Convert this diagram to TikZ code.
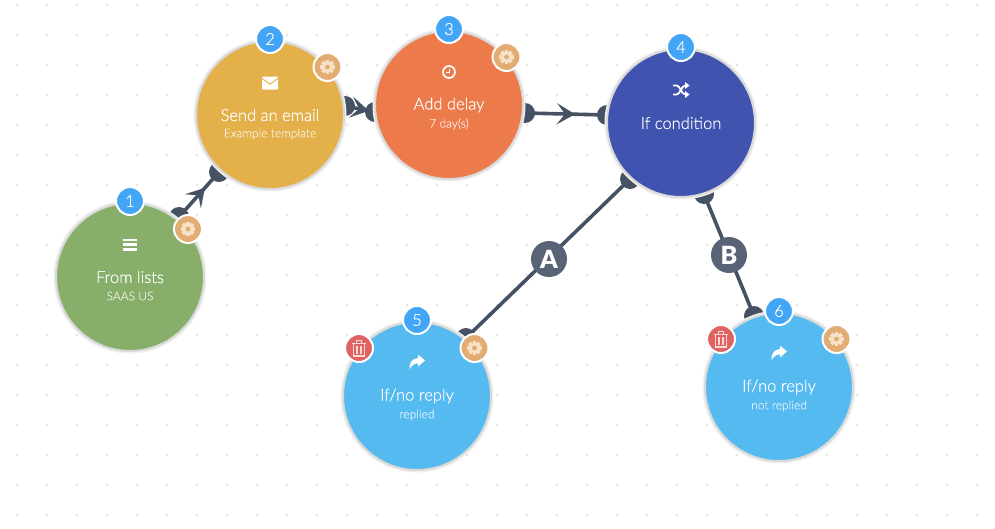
\documentclass[tikz,border=0pt]{standalone}
\usepackage{fontspec}
\setmainfont{Lato}[UprightFont={* Light},UprightFeatures={FakeBold=0.35},BoldFont={* Black}]
\usetikzlibrary{arrows.meta,decorations.markings}
\definecolor{linkc}{HTML}{445263}
\definecolor{labelc}{HTML}{586475}
\definecolor{dotc}{HTML}{E4E4E4}
\definecolor{greenc}{HTML}{88AF69}
\definecolor{yellowc}{HTML}{E4B04A}
\definecolor{orangec}{HTML}{EC7A4A}
\definecolor{navyc}{HTML}{4053AE}
\definecolor{skyc}{HTML}{54BAF0}
\definecolor{badgec}{HTML}{42A5F5}
\definecolor{gearc}{HTML}{E2AC72}
\definecolor{gearin}{HTML}{F7E2C8}
\definecolor{trashc}{HTML}{E06363}
\definecolor{trashin}{HTML}{FADAD5}
\tikzset{
  flow/.style={circle,fill=#1,draw=black!15,line width=2pt,minimum size=148pt,inner sep=0pt,
     preaction={draw=black!6,line width=5pt}},
  numbadge/.style={circle,fill=badgec,draw=white,line width=2pt,minimum size=28pt,inner sep=0pt,text=white,font=\fontsize{16.5}{18}\selectfont},
  toolbadge/.style={circle,fill=#1,draw=white,line width=2pt,minimum size=28pt,inner sep=0pt},
  title/.style={text=white,inner sep=0pt,font=\fontsize{16.5}{18}\selectfont},
  subtitle/.style={text=white,opacity=.72,inner sep=0pt,font=\fontsize{12}{13}\selectfont},
  enddot/.style={circle,fill=linkc,minimum size=20pt,inner sep=0pt},
  link/.style={draw=linkc,line width=3.6pt},
  arrowlink/.style={link,postaction={decorate},decoration={markings,
     mark=at position .5 with {\arrow[xshift=9pt,linkc]{Stealth[length=18pt,width=21pt,inset=8pt]}}}},
  letter/.style={circle,fill=labelc,minimum size=36pt,inner sep=0pt,text=white,font=\fontsize{25}{28}\selectfont\bfseries},
  gear/.pic={
    \foreach \a in {0,45,...,315}{\fill[gearin,rotate=\a] (-1.9,-7.2) rectangle (1.9,0);}
    \fill[gearin] (0,0) circle (5.6);
    \fill[gearc] (0,0) circle (2.4);
  },
  trash/.pic={
    \fill[trashin] (-7,-5.5) rectangle (7,-4.2);
    \draw[trashin,line width=1pt] (-2.5,-5.5) -- (-2.5,-8) -- (2.5,-8) -- (2.5,-5.5);
    \draw[trashin,line width=1.1pt] (-5.6,-4) -- (-5.6,8) -- (5.6,8) -- (5.6,-4);
    \foreach \x in {-2,2}{\draw[trashin,line width=1.1pt] (\x,-2) -- (\x,6);}
  },
  share/.pic={
    \fill[white] (8,-2.5) -- (1,-8.5) -- (1,-5) .. controls (-5,-4.5) and (-8,0) .. (-7.5,6.5)
       .. controls (-5.5,2) and (-2,0.3) .. (1,0.5) -- (1,3.5) -- cycle;
  },
}
\begin{document}
\begin{tikzpicture}[x=1pt,y=-1pt]
\useasboundingbox (0,0) rectangle (995,528);
\fill[white] (0,0) rectangle (995,528);
% background dots
\foreach \i in {0,...,32}\foreach \j in {0,...,17}{
  \fill[dotc] ({17+30*\i},{5+30*\j}) circle (1.4);
}
% end dots
\node[enddot] (a1) at (179,217) {};
\node[enddot] (b2) at (219,172) {};
\node[enddot] (a2) at (345,106) {};
\node[enddot] (b3) at (375,112) {};
\node[enddot] (a3) at (525,113) {};
\node[enddot] (b4) at (607,115) {};
\node[enddot] (a4) at (630,179) {};
\node[enddot] (b5) at (466,338) {};
\node[enddot] (c4) at (704,194) {};
\node[enddot] (b6) at (754,316) {};
% connectors
\draw[arrowlink] (a1.center) -- (b2.center);
\draw[arrowlink] (a2.center) -- (b3.center);
\draw[arrowlink] (a3.center) -- (b4.center);
\draw[link] (a4.center) -- (b5.center);
\draw[link] (c4.center) -- (b6.center);
\node[letter] (la) at (549,259) {A};
\node[letter] (lb) at (729,255) {B};
% main circles
\node[flow=greenc]  (n1) at (130,277) {};
\node[flow=yellowc] (n2) at (270,115) {};
\node[flow=orangec] (n3) at (449,105) {};
\node[flow=navyc]   (n4) at (681,123) {};
\node[flow=skyc]    (n5) at (417,396) {};
\node[flow=skyc]    (n6) at (779,387) {};
% titles
\node[title] (t1) at (130,277) {From lists};
\node[subtitle] (s1) at (130,296) {SAAS US};
\node[title] (t2) at (270,115) {Send an email};
\node[subtitle] (s2) at (270,134) {Example template};
\node[title] (t3) at (449,105) {Add delay};
\node[subtitle] (s3) at (449,124) {7 day(s)};
\node[title] (t4) at (681,123) {If condition};
\node[title] (t5) at (417,396) {If/no reply};
\node[subtitle] (s5) at (417,415) {replied};
\node[title] (t6) at (779,387) {If/no reply};
\node[subtitle] (s6) at (779,406) {not replied};
% number badges
\node[numbadge] (k1) at (130,201) {1};
\node[numbadge] (k2) at (270,39) {2};
\node[numbadge] (k3) at (449,29) {3};
\node[numbadge] (k4) at (681,47) {4};
\node[numbadge] (k5) at (417,320) {5};
\node[numbadge] (k6) at (779,311) {6};
% tool badges
\node[toolbadge=gearc] (g1) at (188,229) {};
\node[toolbadge=gearc] (g2) at (327.5,67) {};
\node[toolbadge=gearc] (g3) at (506.5,57) {};
\node[toolbadge=gearc] (g5) at (474.5,348) {};
\node[toolbadge=gearc] (g6) at (836.5,339) {};
\node[toolbadge=trashc] (d5) at (359,348) {};
\node[toolbadge=trashc] (d6) at (721,339) {};
\foreach \n in {g1,g2,g3,g5,g6}{\pic at (\n) {gear};}
\foreach \n in {d5,d6}{\pic at (\n) {trash};}
% icons
\begin{scope}[shift={(130,244.5)}]
  \foreach \y in {-6,-1.2,3.6}{\fill[white] (-7,\y) rectangle (7,\y+2.4);}
\end{scope}
\begin{scope}[shift={(270,83)}]
  \fill[white,rounded corners=1pt] (-8,-6.5) rectangle (8,6.5);
  \draw[yellowc,line width=.9pt] (-8,-4.6) -- (0,1.2) -- (8,-4.6);
\end{scope}
\begin{scope}[shift={(449,72)}]
  \draw[white,line width=1.7pt] (0,0) circle (6);
  \draw[white,line width=1.3pt] (0.6,-3.4) -- (0.6,0.8) -- (-2.6,0.8);
\end{scope}
\begin{scope}[shift={(681,90)}]
  \draw[white,line width=1.8pt] (-8,-4.5) -- (-4.5,-4.5) .. controls (-0.5,-4.5) and (0,4.5) .. (4.5,4.5);
  \draw[white,line width=1.8pt] (-8,4.5) -- (-4.5,4.5) .. controls (-0.5,4.5) and (0,-4.5) .. (4.5,-4.5);
  \fill[white] (8.5,-4.5) -- (4,-8) -- (4,-1) -- cycle;
  \fill[white] (8.5,4.5) -- (4,1) -- (4,8) -- cycle;
\end{scope}
\pic at (417,363) {share};
\pic at (779,354) {share};
\end{tikzpicture}
\end{document}
